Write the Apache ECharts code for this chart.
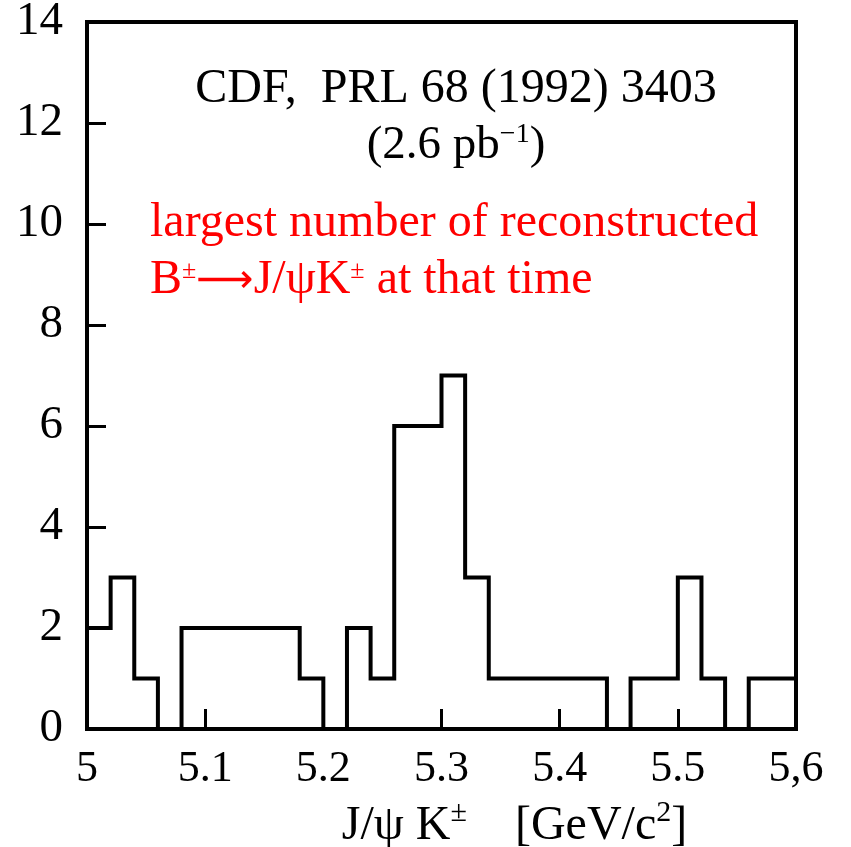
<!DOCTYPE html>
<html>
<head>
<meta charset="utf-8">
<script src="https://cdn.jsdelivr.net/npm/echarts@6/dist/echarts.min.js"></script>
<style>
html,body{margin:0;padding:0;background:#fff;}
#main{width:851px;height:847px;}
</style>
</head>
<body>
<div id="main"></div>
<script>
// Bin lower edges (GeV/c^2), bin width 0.02
var binStarts = [5.00,5.02,5.04,5.06,5.08,5.10,5.12,5.14,5.16,5.18,
                 5.20,5.22,5.24,5.26,5.28,5.30,5.32,5.34,5.36,5.38,
                 5.40,5.42,5.44,5.46,5.48,5.50,5.52,5.54,5.56,5.58];
var binEnd = 5.60;
// Entries per bin
var counts = [2,3,1,0,2,2,2,2,2,1,
              0,2,1,6,6,7,3,1,1,1,
              1,1,0,1,1,3,1,0,1,1];
var xTickLabels = ['5','5.1','5.2','5.3','5.4','5.5','5,6'];
var yTickLabels = ['0','2','4','6','8','10','12','14'];

var FONT = '"Liberation Serif", "Times New Roman", serif';

var stepData = binStarts.map(function(x, i){ return [x, counts[i]]; });
stepData.push([binEnd, counts[counts.length - 1]]);

var chart = echarts.init(document.getElementById('main'), null, {renderer:'canvas'});
chart.setOption({
  backgroundColor: '#ffffff',
  animation: false,
  grid: {left: 87, right: 55, top: 22, bottom: 118, containLabel: false, outerBoundsMode: 'none',
         show: true, borderColor: '#000', borderWidth: 4, backgroundColor: 'transparent'},
  xAxis: {
    type: 'value', min: 5, max: 5.6, interval: 0.1,
    axisLine: {show: true, lineStyle: {color: '#000', width: 4}},
    axisTick: {show: true, inside: true, length: 20, lineStyle: {color: '#000', width: 3}},
    splitLine: {show: false},
    axisLabel: {
      fontFamily: FONT, fontSize: 44, color: '#000', margin: 18,
      formatter: function(v){ return xTickLabels[Math.round((v - 5) / 0.1)]; }
    },
    name: '{a|J/ψ K}{s|±}{a|    [GeV/c}{s|2}{a|]}',
    nameLocation: 'middle', nameGap: 69,
    nameTextStyle: {
      padding: [0, 0, 0, 146],
      rich: {
        a: {fontFamily: FONT, fontSize: 48, color: '#000', verticalAlign: 'bottom'},
        s: {fontFamily: FONT, fontSize: 30, color: '#000', verticalAlign: 'bottom', padding: [0,0,22,0]}
      }
    }
  },
  yAxis: {
    type: 'value', min: 0, max: 14, interval: 2,
    axisLine: {show: true, lineStyle: {color: '#000', width: 4}},
    axisTick: {show: true, inside: true, length: 19, lineStyle: {color: '#000', width: 3}},
    splitLine: {show: false},
    axisLabel: {
      fontFamily: FONT, fontSize: 47, color: '#000', margin: 24,
      formatter: function(v){ return yTickLabels[Math.round(v / 2)]; }
    }
  },
  series: [{
    type: 'line', step: 'end', data: stepData,
    showSymbol: false, symbol: 'none',
    lineStyle: {color: '#000', width: 4, join: 'miter', cap: 'square'},
    clip: false, z: 3
  }],
  graphic: [
    {type: 'text', z: 10,
     style: {text: 'CDF,  PRL 68 (1992) 3403', x: 456, y: 65, align: 'center', verticalAlign: 'top',
             font: '48px ' + FONT, fill: '#000'}},
    {type: 'text', z: 10,
     style: {text: '{a|(2.6 pb}{s|−1}{a|)}', x: 456, y: 121, align: 'center', verticalAlign: 'top', rich: {
       a: {fontFamily: FONT, fontSize: 47, fill: '#000', verticalAlign: 'bottom'},
       s: {fontFamily: FONT, fontSize: 28, fill: '#000', verticalAlign: 'bottom', padding: [0,0,20,0]}
     }}},
    {type: 'text', z: 10,
     style: {text: 'largest number of reconstructed', x: 150, y: 199, align: 'left', verticalAlign: 'top',
             font: '48px ' + FONT, fill: '#ff0000'}},
    {type: 'text', z: 10,
     style: {text: '{a|B}{s|±}{r|⟶}{a|J/ψK}{s|±}{a| at that time}', x: 150, y: 256, align: 'left', verticalAlign: 'top', rich: {
       a: {fontFamily: FONT, fontSize: 48, fill: '#ff0000', verticalAlign: 'bottom'},
       r: {fontFamily: '"DejaVu Sans", sans-serif', fontSize: 40, fill: '#ff0000', verticalAlign: 'bottom', padding: [0,0,2,0]},
       s: {fontFamily: FONT, fontSize: 26, fill: '#ff0000', verticalAlign: 'bottom', padding: [0,0,20,0]}
     }}}
  ]
});
</script>
</body>
</html>
